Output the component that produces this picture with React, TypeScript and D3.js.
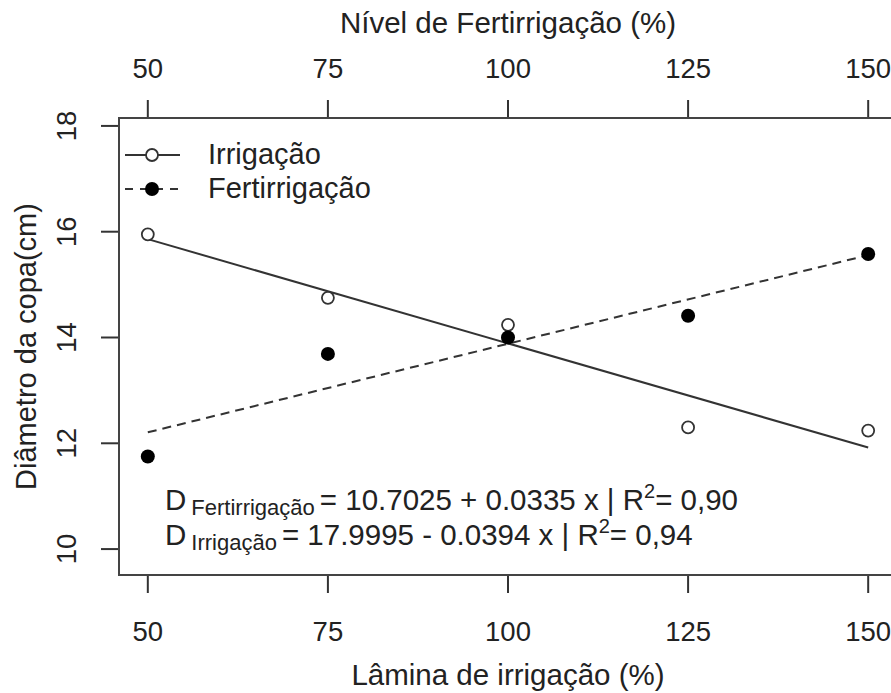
import React from 'react';
import * as d3 from 'd3';

// Irrigation / fertigation levels (%)
const levels = [50, 75, 100, 125, 150];
// Canopy diameter (cm)
const irrigacao = [16.12, 14.92, 14.41, 12.47, 12.41];
const fertirrigacao = [11.92, 13.86, 14.17, 14.58, 15.75];

// Fitted linear models: D = a + b x
const fertCoef = [10.7025, 0.0335];
const irrCoef = [17.9995, -0.0394];
const fertR2 = '0,90';
const irrR2 = '0,94';

const xTicks = [50, 75, 100, 125, 150];
const yTicks = [10, 12, 14, 16, 18];

const W = 891;
const H = 693;
const plot = { left: 119, right: 897, top: 118, bottom: 575 };
const FONT = '"Liberation Sans", Arial, Helvetica, sans-serif';
const INK = '#222';
const LINE = '#333';
const TICK_LEN = 18;
const AXIS_SHIFT = 9; // left axis is drawn slightly above the data scale

export default function App() {
  const x = d3.scaleLinear().domain([46, 154]).range([plot.left, plot.right]);
  const y = d3.scaleLinear().domain([9.68, 18.32]).range([plot.bottom, plot.top]);
  const yAxis = y.copy().range([plot.bottom - AXIS_SHIFT, plot.top - AXIS_SHIFT]);

  const fitLine = (coef: number[]) =>
    d3
      .line<number>()
      .x((d) => x(d))
      .y((d) => y(coef[0] + coef[1] * d))([levels[0], levels[levels.length - 1]]) || '';

  const fmt = (v: number) => Math.abs(v).toFixed(4);

  const equation = (label: string, coef: number[], r2: string, baseline: number) => (
    <text x={165} y={baseline} fontSize={29.5} fill={INK}>
      D
      <tspan dx={5} dy={5} fontSize={22}>
        {label}
      </tspan>
      <tspan dx={5} dy={-5}>
        {`= ${fmt(coef[0])} ${coef[1] < 0 ? '-' : '+'} ${fmt(coef[1])} x | R`}
      </tspan>
      <tspan dy={-12} fontSize={20}>
        2
      </tspan>
      <tspan dy={12}>{`= ${r2}`}</tspan>
    </text>
  );

  return (
    <svg
      width={W}
      height={H}
      style={{ position: 'absolute', left: 0, top: 0, background: '#fff' }}
      fontFamily={FONT}
    >
      <rect x={0} y={0} width={W} height={H} fill="#fff" />

      {/* top axis */}
      <text x={x(100)} y={33} fontSize={29.5} textAnchor="middle" fill={INK}>
        Nível de Fertirrigação (%)
      </text>
      {xTicks.map((t) => (
        <g key={'tt' + t}>
          <line x1={x(t)} x2={x(t)} y1={plot.top} y2={plot.top - TICK_LEN} stroke={LINE} strokeWidth={2} />
          <text x={x(t)} y={78} fontSize={27.5} textAnchor="middle" fill={INK}>
            {t}
          </text>
        </g>
      ))}

      {/* bottom axis */}
      {xTicks.map((t) => (
        <g key={'bt' + t}>
          <line x1={x(t)} x2={x(t)} y1={plot.bottom} y2={plot.bottom + TICK_LEN} stroke={LINE} strokeWidth={2} />
          <text x={x(t)} y={641} fontSize={27.5} textAnchor="middle" fill={INK}>
            {t}
          </text>
        </g>
      ))}
      <text x={x(100)} y={685} fontSize={29.5} textAnchor="middle" fill={INK}>
        Lâmina de irrigação (%)
      </text>

      {/* left axis */}
      {yTicks.map((t) => (
        <g key={'yt' + t}>
          <line x1={plot.left} x2={plot.left - TICK_LEN} y1={yAxis(t)} y2={yAxis(t)} stroke={LINE} strokeWidth={2} />
          <text
            transform={`translate(76, ${yAxis(t)}) rotate(-90)`}
            fontSize={27.5}
            textAnchor="middle"
            fill={INK}
          >
            {t}
          </text>
        </g>
      ))}
      <text
        transform={`translate(36, ${(plot.top + plot.bottom) / 2}) rotate(-90)`}
        fontSize={29}
        textAnchor="middle"
        fill={INK}
      >
        Diâmetro da copa(cm)
      </text>

      {/* plot frame */}
      <rect
        x={plot.left}
        y={plot.top}
        width={plot.right - plot.left}
        height={plot.bottom - plot.top}
        fill="none"
        stroke="#444"
        strokeWidth={2}
      />

      {/* fitted lines */}
      <path d={fitLine(irrCoef)} stroke={LINE} strokeWidth={2} fill="none" />
      <path d={fitLine(fertCoef)} stroke={LINE} strokeWidth={2} fill="none" strokeDasharray="9,6" />

      {/* observations */}
      {levels.map((l, i) => (
        <circle key={'i' + l} cx={x(l)} cy={y(irrigacao[i])} r={6} fill="#fff" stroke={LINE} strokeWidth={1.8} />
      ))}
      {levels.map((l, i) => (
        <circle key={'f' + l} cx={x(l)} cy={y(fertirrigacao[i])} r={7} fill="#000" />
      ))}

      {/* legend */}
      <line x1={125} x2={180} y1={155} y2={155} stroke={LINE} strokeWidth={2} />
      <circle cx={152} cy={155} r={6} fill="#fff" stroke={LINE} strokeWidth={1.8} />
      <text x={208} y={164} fontSize={29} fill={INK}>
        Irrigação
      </text>
      <line x1={125} x2={180} y1={189} y2={189} stroke={LINE} strokeWidth={2} strokeDasharray="8,7" />
      <circle cx={152} cy={189} r={7} fill="#000" />
      <text x={208} y={198} fontSize={29} fill={INK}>
        Fertirrigação
      </text>

      {/* model equations */}
      {equation('Fertirrigação', fertCoef, fertR2, 510)}
      {equation('Irrigação', irrCoef, irrR2, 545)}
    </svg>
  );
}
